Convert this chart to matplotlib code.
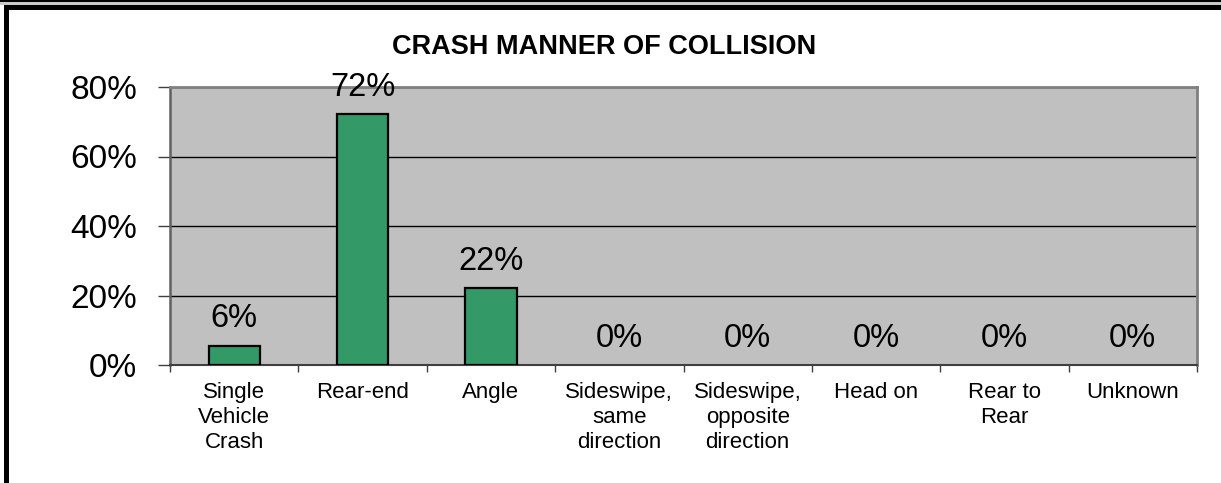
import matplotlib
matplotlib.use("Agg")
import matplotlib.pyplot as plt
from matplotlib.patches import Rectangle

plt.rcParams['font.family'] = ['Liberation Sans', 'DejaVu Sans']

categories = ["Single\nVehicle\nCrash", "Rear-end", "Angle", "Sideswipe,\nsame\ndirection",
              "Sideswipe,\nopposite\ndirection", "Head on", "Rear to\nRear", "Unknown"]
values = [5.6, 72.2, 22.2, 0, 0, 0, 0, 0]
labels = ["6%", "72%", "22%", "0%", "0%", "0%", "0%", "0%"]
yticks = [0, 20, 40, 60, 80]
ytick_labels = ["0%", "20%", "40%", "60%", "80%"]
title = "CRASH MANNER OF COLLISION"

W, H = 1221, 483
fig = plt.figure(figsize=(W / 100, H / 100), dpi=100)
fig.patch.set_facecolor('white')

ax = fig.add_axes([170 / W, (H - 365) / H, (1197 - 170) / W, (365 - 87) / H])
ax.set_facecolor('#C0C0C0')
x = list(range(len(categories)))
bars = ax.bar(x, values, width=0.4, color='#339966', edgecolor='black', linewidth=1.6, zorder=3)
for b, v in zip(bars, values):
    if v == 0:
        b.set_linewidth(0)
for xi, v, lab in zip(x, values, labels):
    ax.annotate(lab, (xi, v), xytext=(0, 13), textcoords='offset points',
                ha='center', va='baseline', fontsize=23.5, color='black', zorder=4)

ax.set_xlim(-0.5, len(categories) - 0.5)
ax.set_ylim(0, 80)
ax.set_yticks(yticks)
ax.set_yticklabels(ytick_labels, fontsize=24)
ax.yaxis.grid(True, color='black', linewidth=1.0, zorder=1)
ax.set_axisbelow(True)
ax.tick_params(axis='y', direction='out', length=8.6, width=1.0, color='#404040', pad=15)

ax.set_xticks(x)
ax.set_xticklabels(categories, fontsize=16, linespacing=1.25)
ax.tick_params(axis='x', which='major', length=0, pad=12)
ax.set_xticks([i - 0.5 for i in range(len(categories) + 1)], minor=True)
ax.tick_params(axis='x', which='minor', direction='out', length=5, width=1.0, color='#404040')

for side in ['top', 'right']:
    ax.spines[side].set_color('#808080')
    ax.spines[side].set_linewidth(2.0)
ax.spines['left'].set_color('#606060')
ax.spines['left'].set_linewidth(1.8)
ax.spines['bottom'].set_color('#404040')
ax.spines['bottom'].set_linewidth(1.5)

fig.text(604 / W, (H - 54) / H, title, ha='center', va='baseline',
         fontsize=19.5, fontweight='bold')

def px_rect(x0, y0, x1, y1, color):
    fig.add_artist(Rectangle((x0 / W, 1 - y1 / H), (x1 - x0) / W, (y1 - y0) / H,
                             transform=fig.transFigure, facecolor=color,
                             edgecolor='none', zorder=10))

px_rect(0, 0, W, 1.8, 'black')
px_rect(0, 1.8, W, 5, '#c8c8c8')
px_rect(4, 5, W, 9.5, 'black')
px_rect(4, 5, 8.5, H, 'black')

fig.savefig('out.png', dpi=100, facecolor='white')
